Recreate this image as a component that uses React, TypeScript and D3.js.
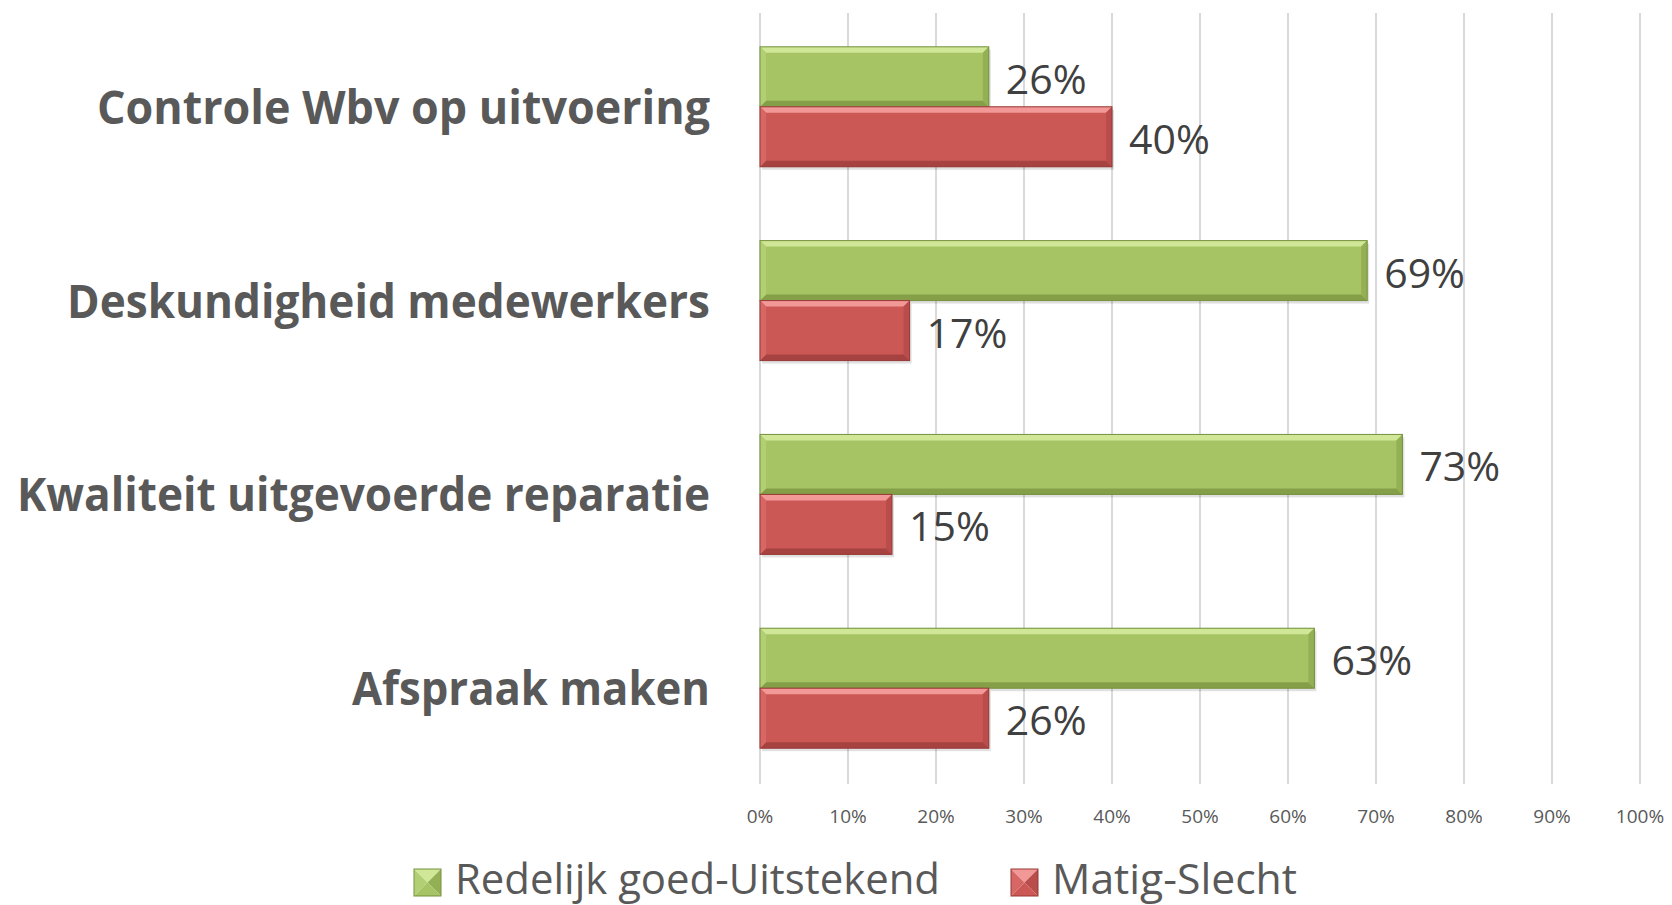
import React from "react";
import * as d3 from "d3";

const categories = [
  "Controle Wbv op uitvoering",
  "Deskundigheid medewerkers",
  "Kwaliteit uitgevoerde reparatie",
  "Afspraak maken",
];
const seriesNames = ["Redelijk goed-Uitstekend", "Matig-Slecht"];
const goodValues = [0.26, 0.69, 0.73, 0.63];
const badValues = [0.4, 0.17, 0.15, 0.26];
const tickValues = [0, 0.1, 0.2, 0.3, 0.4, 0.5, 0.6, 0.7, 0.8, 0.9, 1.0];

const W = 1672;
const H = 905;

const palettes = [
  { main: "#a6c464", top: "#cfe796", bottom: "#849f48", right: "#93b055", left: "#b2cf73", border: "#76913e" },
  { main: "#cc5856", top: "#f29896", bottom: "#a64341", right: "#b84d4b", left: "#d76765", border: "#973936" },
];

const labelWidths: Record<string, number> = {
  "Controle Wbv op uitvoering": 613,
  "Deskundigheid medewerkers": 643,
  "Kwaliteit uitgevoerde reparatie": 693,
  "Afspraak maken": 358,
};
const legendWidths = [485, 245];

function BevelBar({ x, y, w, h, p }: { x: number; y: number; w: number; h: number; p: any }) {
  const b = 6;
  const x1 = x + w;
  const y1 = y + h;
  return (
    <g>
      <rect x={x + 2} y={y + 3} width={w} height={h} fill="#000" opacity={0.12} />
      <rect x={x} y={y} width={w} height={h} fill={p.main} />
      <polygon points={`${x},${y} ${x1},${y} ${x1 - b},${y + b} ${x + b},${y + b}`} fill={p.top} />
      <polygon points={`${x},${y1} ${x1},${y1} ${x1 - b},${y1 - b} ${x + b},${y1 - b}`} fill={p.bottom} />
      <polygon points={`${x},${y} ${x + b},${y + b} ${x + b},${y1 - b} ${x},${y1}`} fill={p.left} />
      <polygon points={`${x1},${y} ${x1 - b},${y + b} ${x1 - b},${y1 - b} ${x1},${y1}`} fill={p.right} />
      <rect x={x} y={y} width={w} height={h} fill="none" stroke={p.border} strokeWidth={1} />
    </g>
  );
}

function LegendSquare({ x, y, s, p }: { x: number; y: number; s: number; p: any }) {
  const cx = x + s / 2;
  const cy = y + s / 2;
  return (
    <g>
      <polygon points={`${x},${y} ${x + s},${y} ${cx},${cy}`} fill={p.top} />
      <polygon points={`${x},${y} ${cx},${cy} ${x},${y + s}`} fill={p.left} />
      <polygon points={`${x + s},${y} ${cx},${cy} ${x + s},${y + s}`} fill={p.right} />
      <polygon points={`${x},${y + s} ${cx},${cy} ${x + s},${y + s}`} fill={p.main} />
      <rect x={x} y={y} width={s} height={s} fill="none" stroke={p.border} strokeWidth={1} />
    </g>
  );
}

export default function App() {
  const x = d3.scaleLinear().domain([0, 1]).range([760, 1640]);
  const y = d3
    .scaleBand<string>()
    .domain(categories)
    .range([10, 785])
    .paddingInner(0.381)
    .paddingOuter(0.19);
  const ySub = d3.scaleBand<string>().domain(seriesNames).range([0, y.bandwidth()]);
  const seriesValues = [goodValues, badValues];
  const fmt = d3.format(".0%");

  return (
    <svg
      width={W}
      height={H}
      style={{ position: "absolute", left: 0, top: 0, background: "#fff" }}
      fontFamily="'Open Sans', sans-serif"
    >
      <rect x={0} y={0} width={W} height={H} fill="#fff" />
      {/* gridlines */}
      {tickValues.map((t) => (
        <line key={t} x1={x(t)} x2={x(t)} y1={13} y2={784} stroke="#d9d9d9" strokeWidth={2} />
      ))}
      {/* tick labels */}
      {tickValues.map((t) => (
        <text key={"l" + t} x={x(t)} y={823} textAnchor="middle" fontSize={19} fill="#595959">
          {fmt(t)}
        </text>
      ))}
      {/* category labels */}
      {categories.map((c) => {
        const cy = (y(c) ?? 0) + y.bandwidth() / 2;
        return (
          <text
            key={c}
            x={710}
            y={cy + 17}
            textAnchor="end"
            fontSize={47}
            fontWeight="bold"
            fill="#595959"
            textLength={labelWidths[c]}
            lengthAdjust="spacingAndGlyphs"
          >
            {c}
          </text>
        );
      })}
      {/* bars */}
      {categories.map((c, i) =>
        seriesNames.map((s, si) => {
          const v = seriesValues[si][i];
          const by = (y(c) ?? 0) + (ySub(s) ?? 0);
          const bh = ySub.bandwidth();
          return (
            <g key={c + s}>
              <BevelBar x={x(0)} y={by} w={x(v) - x(0)} h={bh} p={palettes[si]} />
              <text x={x(v) + 17} y={by + bh / 2 + 17} fontSize={41} fill="#404040">
                {fmt(v)}
              </text>
            </g>
          );
        })
      )}
      {/* legend */}
      <LegendSquare x={414} y={869} s={27} p={palettes[0]} />
      <text x={455} y={894} fontSize={42} fill="#595959" textLength={legendWidths[0]} lengthAdjust="spacingAndGlyphs">
        {seriesNames[0]}
      </text>
      <LegendSquare x={1011} y={869} s={27} p={palettes[1]} />
      <text x={1052} y={894} fontSize={42} fill="#595959" textLength={legendWidths[1]} lengthAdjust="spacingAndGlyphs">
        {seriesNames[1]}
      </text>
    </svg>
  );
}
